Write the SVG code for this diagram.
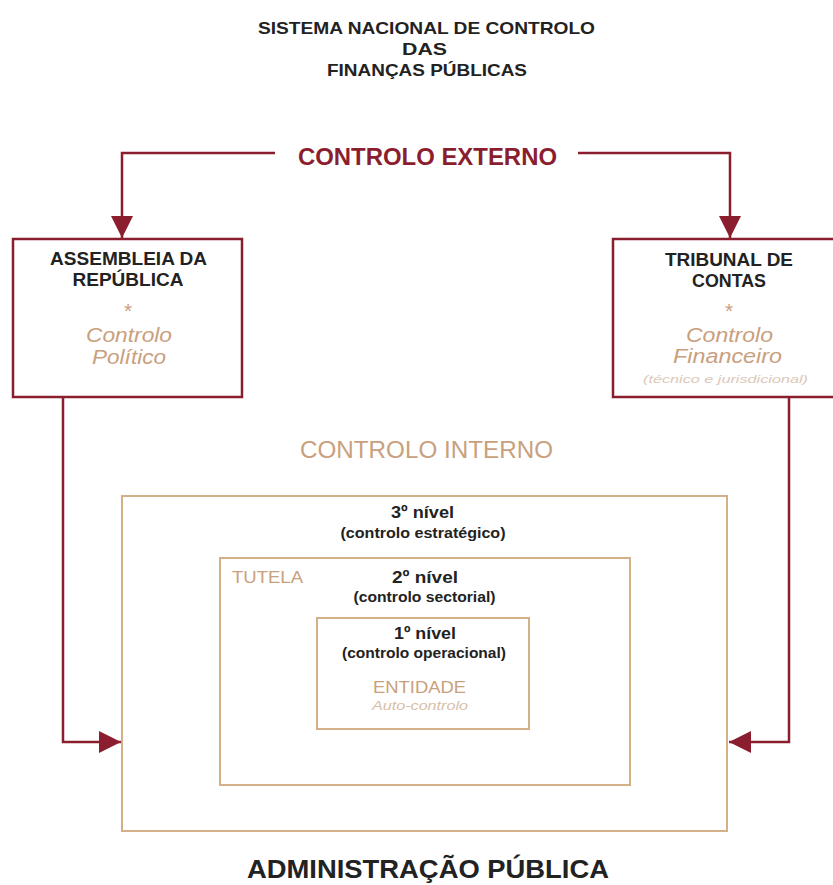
<svg xmlns="http://www.w3.org/2000/svg" width="833" height="885" viewBox="0 0 833 885">
<defs>
<marker id="ah" viewBox="0 0 10 10" refX="10" refY="5" markerWidth="22" markerHeight="22" markerUnits="userSpaceOnUse" orient="auto">
<path d="M0,0 L10,5 L0,10 Z" fill="#8B1E2E"/>
</marker>
<style>
text{font-family:"Liberation Sans",Arial,sans-serif;text-anchor:middle}
.title{font-size:17px;font-weight:bold;fill:#222}
.ext{font-size:24px;font-weight:bold;fill:#8B1E2E}
.hdr{font-size:18.5px;font-weight:bold;fill:#222}
.ast{font-size:21px;fill:#C9A07E}
.sub{font-size:20px;font-style:italic;fill:#C9A07E}
.tiny{font-size:11px;font-style:italic;fill:#DCC8BA}
.int{font-size:24px;fill:#C9A07E}
.lvl{font-size:17px;font-weight:bold;fill:#222}
.lvls{font-size:14px;font-weight:bold;fill:#222}
.tan{font-size:17px;fill:#C9A07E}
.auto{font-size:13px;font-style:italic;fill:#D8BEA8}
.adm{font-size:26px;font-weight:bold;fill:#222}
.rbox{fill:#fff;stroke:#8B1E2E;stroke-width:2.5}
.obox{fill:none;stroke:#D4B088;stroke-width:2}
.conn{fill:none;stroke:#8B1E2E;stroke-width:2.5}
</style>
</defs>
<rect width="833" height="885" fill="#fff"/>
<g id="title">
<text class="title" x="426.5" y="34" textLength="337" lengthAdjust="spacingAndGlyphs">SISTEMA NACIONAL DE CONTROLO</text>
<text class="title" x="424.5" y="55" textLength="45" lengthAdjust="spacingAndGlyphs">DAS</text>
<text class="title" x="427" y="76" textLength="200" lengthAdjust="spacingAndGlyphs">FINANÇAS PÚBLICAS</text>
</g>
<g id="controlo-externo">
<text class="ext" x="427.5" y="165" textLength="259" lengthAdjust="spacingAndGlyphs">CONTROLO EXTERNO</text>
</g>
<g id="connectors">
<path class="conn" d="M275,153 H122 V238" marker-end="url(#ah)"/>
<path class="conn" d="M578,153 H730 V238" marker-end="url(#ah)"/>
<path class="conn" d="M63,397 V742 H121" marker-end="url(#ah)"/>
<path class="conn" d="M789,397 V742 H729" marker-end="url(#ah)"/>
</g>
<g id="assembleia">
<rect class="rbox" x="13" y="239" width="229" height="158"/>
<text class="hdr" x="128.5" y="265" textLength="157" lengthAdjust="spacingAndGlyphs">ASSEMBLEIA DA</text>
<text class="hdr" x="128" y="286" textLength="111" lengthAdjust="spacingAndGlyphs">REPÚBLICA</text>
<text class="ast" x="128" y="318">*</text>
<text class="sub" x="129" y="342" textLength="86" lengthAdjust="spacingAndGlyphs">Controlo</text>
<text class="sub" x="129" y="364" textLength="74" lengthAdjust="spacingAndGlyphs">Político</text>
</g>
<g id="tribunal">
<rect class="rbox" x="613" y="239" width="240" height="158"/>
<text class="hdr" x="729" y="266" textLength="128" lengthAdjust="spacingAndGlyphs">TRIBUNAL DE</text>
<text class="hdr" x="729" y="287" textLength="74" lengthAdjust="spacingAndGlyphs">CONTAS</text>
<text class="ast" x="729" y="318">*</text>
<text class="sub" x="729.5" y="342" textLength="87" lengthAdjust="spacingAndGlyphs">Controlo</text>
<text class="sub" x="727.5" y="363" textLength="109" lengthAdjust="spacingAndGlyphs">Financeiro</text>
<text class="tiny" x="725.5" y="383" textLength="165" lengthAdjust="spacingAndGlyphs">(técnico e jurisdicional)</text>
</g>
<g id="controlo-interno">
<text class="int" x="426.5" y="458" textLength="253" lengthAdjust="spacingAndGlyphs">CONTROLO INTERNO</text>
</g>
<g id="nivel3">
<rect class="obox" x="122" y="496" width="605" height="335"/>
<text class="lvl" x="422.5" y="518" textLength="63" lengthAdjust="spacingAndGlyphs">3º nível</text>
<text class="lvls" x="423" y="538" textLength="165" lengthAdjust="spacingAndGlyphs">(controlo estratégico)</text>
</g>
<g id="nivel2">
<rect class="obox" x="220" y="558" width="410" height="227"/>
<text class="tan" x="232" y="583" style="text-anchor:start" textLength="71" lengthAdjust="spacingAndGlyphs">TUTELA</text>
<text class="lvl" x="425" y="583" textLength="66" lengthAdjust="spacingAndGlyphs">2º nível</text>
<text class="lvls" x="424.5" y="602" textLength="142" lengthAdjust="spacingAndGlyphs">(controlo sectorial)</text>
</g>
<g id="nivel1">
<rect class="obox" x="317" y="618" width="212" height="111"/>
<text class="lvl" x="425" y="639" textLength="62" lengthAdjust="spacingAndGlyphs">1º nível</text>
<text class="lvls" x="424" y="658" textLength="164" lengthAdjust="spacingAndGlyphs">(controlo operacional)</text>
<text class="tan" x="419.5" y="693" textLength="93" lengthAdjust="spacingAndGlyphs">ENTIDADE</text>
<text class="auto" x="420" y="710" textLength="96" lengthAdjust="spacingAndGlyphs">Auto-controlo</text>
</g>
<g id="administracao">
<text class="adm" x="428" y="878" textLength="362" lengthAdjust="spacingAndGlyphs">ADMINISTRAÇÃO PÚBLICA</text>
</g>
</svg>
